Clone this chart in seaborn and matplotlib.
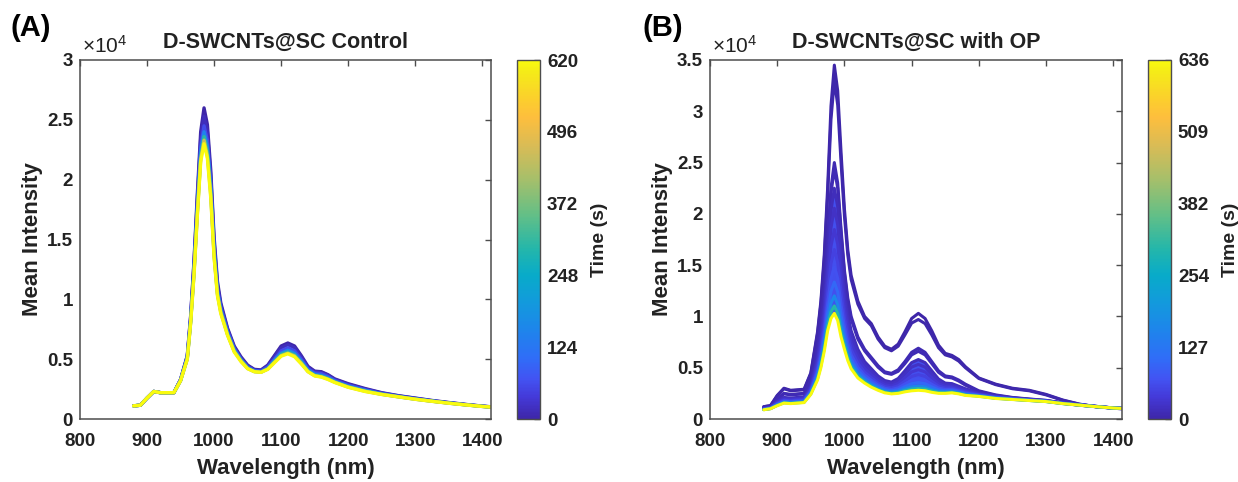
import numpy as np
import pandas as pd
import matplotlib
matplotlib.use("Agg")
import matplotlib.pyplot as plt
import seaborn as sns
from matplotlib.colors import LinearSegmentedColormap, Normalize
from matplotlib.cm import ScalarMappable
from matplotlib.ticker import FuncFormatter

# ---------------- data (intensities in units of 1e3 counts) ----------------
wavelength = [880, 890, 900, 910, 920, 940, 950, 960, 965, 970, 975, 980, 985, 990, 995,
              1000, 1005, 1010, 1020, 1030, 1040, 1050, 1060, 1070, 1080, 1090, 1100, 1110,
              1120, 1130, 1140, 1150, 1160, 1170, 1180, 1200, 1225, 1250, 1275, 1300, 1325,
              1350, 1375, 1400, 1413]

# Panel A: D-SWCNTs@SC Control
a_t000 = [1.1, 1.15, 1.75, 2.3, 2.2, 2.2, 3.3, 5.3, 8.6, 13.2, 18.8, 24.0, 26.0, 24.6, 20.8, 15.2, 11.5, 9.7, 7.6, 6.1,
          5.2, 4.5, 4.15, 4.1, 4.5, 5.3, 6.1, 6.35, 6.1, 5.3, 4.4, 4.0, 3.95, 3.7, 3.35, 2.95, 2.55, 2.2, 1.95, 1.75,
          1.55, 1.38, 1.22, 1.08, 1.02]
a_t015 = [1.1, 1.15, 1.75, 2.3, 2.2, 2.2, 3.3, 5.25, 8.5, 13.0, 18.4, 23.4, 25.3, 24.0, 20.3, 14.8, 11.2, 9.5, 7.5, 6.0,
          5.1, 4.45, 4.1, 4.05, 4.45, 5.2, 5.95, 6.2, 5.95, 5.2, 4.3, 3.95, 3.9, 3.65, 3.3, 2.9, 2.5, 2.17, 1.93, 1.73,
          1.53, 1.36, 1.21, 1.07, 1.01]
a_t060 = [1.1, 1.15, 1.75, 2.3, 2.2, 2.2, 3.25, 5.2, 8.3, 12.6, 17.9, 22.8, 24.5, 23.3, 19.7, 14.4, 10.9, 9.3, 7.35, 5.9,
          5.0, 4.35, 4.05, 4.0, 4.35, 5.0, 5.7, 5.95, 5.7, 5.0, 4.2, 3.85, 3.8, 3.55, 3.22, 2.82, 2.45, 2.13, 1.9, 1.7,
          1.51, 1.35, 1.2, 1.06, 1.01]
a_t150 = [1.1, 1.15, 1.75, 2.3, 2.2, 2.2, 3.25, 5.1, 8.2, 12.4, 17.6, 22.4, 24.0, 22.8, 19.3, 14.1, 10.7, 9.1, 7.2, 5.8,
          4.95, 4.3, 4.0, 3.95, 4.25, 4.9, 5.5, 5.75, 5.5, 4.85, 4.1, 3.75, 3.65, 3.45, 3.15, 2.75, 2.4, 2.1, 1.88, 1.68,
          1.5, 1.34, 1.19, 1.06, 1.0]
a_t300 = [1.1, 1.15, 1.75, 2.3, 2.2, 2.2, 3.2, 5.05, 8.1, 12.2, 17.3, 21.9, 23.6, 22.4, 19.0, 13.8, 10.5, 9.0, 7.1, 5.7,
          4.9, 4.25, 3.97, 3.92, 4.2, 4.8, 5.4, 5.6, 5.35, 4.75, 4.0, 3.65, 3.58, 3.38, 3.1, 2.7, 2.35, 2.07, 1.86, 1.66,
          1.49, 1.33, 1.18, 1.05, 1.0]
a_t450 = [1.1, 1.15, 1.75, 2.3, 2.2, 2.2, 3.2, 5.0, 8.05, 12.1, 17.1, 21.7, 23.3, 22.0, 18.7, 13.6, 10.4, 8.9, 7.05, 5.65,
          4.85, 4.22, 3.96, 3.91, 4.17, 4.75, 5.3, 5.5, 5.27, 4.67, 3.97, 3.62, 3.53, 3.33, 3.07, 2.67, 2.32, 2.06, 1.85, 1.65,
          1.48, 1.32, 1.18, 1.05, 1.0]
a_t620 = [1.1, 1.15, 1.75, 2.3, 2.2, 2.2, 3.2, 5.0, 8.0, 12.0, 17.0, 21.5, 23.0, 21.8, 18.5, 13.5, 10.3, 8.8, 7.0, 5.6,
          4.8, 4.2, 3.95, 3.9, 4.15, 4.7, 5.25, 5.45, 5.2, 4.6, 3.95, 3.6, 3.5, 3.3, 3.05, 2.65, 2.3, 2.05, 1.85, 1.65,
          1.48, 1.32, 1.18, 1.05, 1.0]
times_A = [0, 15, 60, 150, 300, 450, 620]
curves_A = [a_t000, a_t015, a_t060, a_t150, a_t300, a_t450, a_t620]

# Panel B: D-SWCNTs@SC with OP
b_t000 = [1.2, 1.3, 2.3, 3.0, 2.8, 2.9, 4.5, 8.5, 11.5, 16.0, 22.5, 30.5, 34.5, 32.0, 26.0, 20.5, 16.5, 14.0, 11.5, 10.0,
          9.3, 8.0, 7.1, 6.8, 7.3, 8.5, 9.8, 10.3, 9.8, 8.6, 7.2, 6.4, 6.2, 5.8, 5.1, 4.0, 3.4, 3.0, 2.8, 2.4,
          1.85, 1.45, 1.2, 1.05, 1.0]
b_t004 = [1.2, 1.3, 2.25, 2.95, 2.75, 2.85, 4.4, 8.3, 11.2, 15.5, 21.7, 29.2, 33.0, 30.6, 25.0, 19.8, 16.0, 13.6, 11.2, 9.8,
          9.1, 7.8, 6.95, 6.65, 7.1, 8.2, 9.35, 9.7, 9.3, 8.2, 6.95, 6.25, 6.05, 5.65, 5.0, 3.95, 3.35, 2.95, 2.75, 2.35,
          1.82, 1.43, 1.19, 1.05, 1.0]
b_t008 = [1.1, 1.2, 1.95, 2.5, 2.4, 2.5, 3.8, 7.0, 9.5, 13.0, 17.5, 22.5, 25.0, 23.0, 18.5, 14.5, 11.8, 10.0, 8.0, 6.8,
          6.0, 5.2, 4.6, 4.45, 4.8, 5.6, 6.5, 6.9, 6.5, 5.6, 4.7, 4.2, 4.1, 3.8, 3.4, 2.75, 2.35, 2.1, 1.95, 1.82,
          1.55, 1.35, 1.2, 1.07, 1.03]
b_t012 = [1.1, 1.2, 1.9, 2.45, 2.35, 2.45, 3.7, 6.85, 9.3, 12.7, 17.1, 22.0, 24.4, 22.5, 18.1, 14.2, 11.5, 9.75, 7.8, 6.65,
          5.85, 5.05, 4.5, 4.35, 4.65, 5.4, 6.25, 6.6, 6.25, 5.4, 4.55, 4.1, 4.0, 3.7, 3.3, 2.68, 2.3, 2.07, 1.93, 1.8,
          1.53, 1.34, 1.19, 1.07, 1.03]
b_t016 = [1.05, 1.15, 1.75, 2.1, 2.05, 2.15, 3.3, 6.2, 8.4, 11.5, 15.8, 20.3, 22.5, 20.7, 16.5, 12.8, 10.3, 8.6, 6.8, 5.6,
          4.9, 4.2, 3.75, 3.6, 3.95, 4.7, 5.5, 5.8, 5.5, 4.7, 3.9, 3.5, 3.45, 3.2, 2.95, 2.55, 2.25, 2.05, 1.9, 1.78,
          1.58, 1.4, 1.23, 1.08, 1.03]
b_t024 = [1.03, 1.13, 1.68, 2.01, 1.96, 2.06, 3.16, 5.82, 7.86, 10.72, 14.65, 18.62, 20.55, 18.92, 15.14, 11.84, 9.56, 8.01,
          6.35, 5.26, 4.61, 3.98, 3.56, 3.42, 3.72, 4.37, 5.06, 5.32, 5.06, 4.36, 3.68, 3.34, 3.31, 3.08, 2.85, 2.49, 2.21,
          2.03, 1.88, 1.77, 1.57, 1.39, 1.23, 1.08, 1.03]
b_t034 = [1.0, 1.1, 1.6, 1.92, 1.87, 1.97, 3.0, 5.41, 7.28, 9.88, 13.42, 16.84, 18.47, 17.04, 13.7, 10.82, 8.78, 7.38,
          5.88, 4.91, 4.31, 3.74, 3.35, 3.22, 3.47, 4.02, 4.59, 4.81, 4.59, 4.01, 3.44, 3.17, 3.15, 2.95, 2.74, 2.43, 2.17,
          2.0, 1.87, 1.75, 1.55, 1.38, 1.22, 1.08, 1.03]
b_t048 = [0.98, 1.08, 1.53, 1.83, 1.78, 1.88, 2.86, 5.02, 6.73, 9.1, 12.27, 15.16, 16.52, 15.26, 12.34, 9.86, 8.05, 6.79,
          5.43, 4.57, 4.02, 3.51, 3.16, 3.04, 3.24, 3.7, 4.15, 4.33, 4.15, 3.67, 3.21, 3.01, 3.01, 2.83, 2.63, 2.38, 2.13,
          1.98, 1.85, 1.74, 1.54, 1.38, 1.22, 1.07, 1.03]
b_t068 = [0.96, 1.06, 1.47, 1.75, 1.7, 1.8, 2.73, 4.69, 6.26, 8.41, 11.26, 13.69, 14.81, 13.71, 11.15, 9.02, 7.4, 6.27,
          5.04, 4.28, 3.77, 3.32, 2.99, 2.88, 3.04, 3.41, 3.77, 3.91, 3.77, 3.38, 3.02, 2.87, 2.88, 2.73, 2.54, 2.33, 2.09,
          1.96, 1.84, 1.73, 1.53, 1.37, 1.21, 1.07, 1.03]
b_t100 = [0.94, 1.04, 1.41, 1.69, 1.64, 1.74, 2.63, 4.4, 5.85, 7.83, 10.4, 12.43, 13.35, 12.38, 10.13, 8.3, 6.85, 5.83,
          4.7, 4.03, 3.55, 3.15, 2.85, 2.74, 2.86, 3.16, 3.44, 3.55, 3.44, 3.13, 2.85, 2.75, 2.78, 2.64, 2.46, 2.29, 2.06,
          1.94, 1.83, 1.72, 1.52, 1.36, 1.21, 1.07, 1.03]
b_t160 = [0.92, 1.02, 1.36, 1.63, 1.58, 1.68, 2.53, 4.14, 5.48, 7.29, 9.61, 11.27, 12.01, 11.15, 9.19, 7.64, 6.34, 5.42,
          4.39, 3.79, 3.35, 3.0, 2.72, 2.61, 2.7, 2.94, 3.14, 3.22, 3.14, 2.89, 2.7, 2.64, 2.68, 2.56, 2.39, 2.25, 2.04,
          1.92, 1.81, 1.71, 1.51, 1.36, 1.2, 1.07, 1.03]
b_t300 = [0.91, 1.01, 1.33, 1.58, 1.53, 1.63, 2.45, 3.94, 5.2, 6.89, 9.03, 10.43, 11.03, 10.27, 8.51, 7.16, 5.98, 5.12,
          4.17, 3.63, 3.21, 2.88, 2.62, 2.52, 2.59, 2.77, 2.92, 2.98, 2.92, 2.73, 2.58, 2.56, 2.6, 2.5, 2.34, 2.22, 2.02,
          1.91, 1.81, 1.7, 1.5, 1.35, 1.2, 1.07, 1.03]
b_t636 = [0.9, 1.0, 1.3, 1.55, 1.5, 1.6, 2.4, 3.8, 5.0, 6.6, 8.6, 9.8, 10.3, 9.6, 8.0, 6.8, 5.7, 4.9, 4.0, 3.5,
          3.1, 2.8, 2.55, 2.45, 2.5, 2.65, 2.75, 2.8, 2.75, 2.6, 2.5, 2.5, 2.55, 2.45, 2.3, 2.2, 2.0, 1.9, 1.8, 1.7,
          1.5, 1.35, 1.2, 1.07, 1.03]
times_B = [0, 4, 8, 12, 16, 24, 34, 48, 68, 100, 160, 300, 636]
curves_B = [b_t000, b_t004, b_t008, b_t012, b_t016, b_t024, b_t034, b_t048, b_t068, b_t100,
            b_t160, b_t300, b_t636]
# the densely packed spectra of panel B lie between these two curves
band_top_B = b_t016
band_bottom_B = b_t636
band_time_B = 65

x_ticks = [800, 900, 1000, 1100, 1200, 1300, 1400]
y_ticks_A = [0, 5000, 10000, 15000, 20000, 25000, 30000]
y_ticks_B = [0, 5000, 10000, 15000, 20000, 25000, 30000, 35000]
cbar_ticks_A = [0, 124, 248, 372, 496, 620]
cbar_ticks_B = [0, 127, 254, 382, 509, 636]
titles = ["D-SWCNTs@SC Control", "D-SWCNTs@SC with OP"]
panel_tags = ["(A)", "(B)"]

# ---------------- parula-like colormap ----------------
parula_nodes = [
    (0.000, (0.2422, 0.1504, 0.6603)), (0.060, (0.2680, 0.2250, 0.8500)),
    (0.110, (0.2600, 0.3250, 0.9500)), (0.170, (0.1850, 0.4300, 0.9700)),
    (0.250, (0.1150, 0.5250, 0.9200)), (0.330, (0.0700, 0.6100, 0.8600)),
    (0.400, (0.0300, 0.6700, 0.7900)), (0.476, (0.1453, 0.7150, 0.6646)),
    (0.571, (0.3953, 0.7500, 0.5244)), (0.667, (0.6473, 0.7500, 0.4188)),
    (0.762, (0.8507, 0.7350, 0.3360)), (0.841, (0.9938, 0.7455, 0.2403)),
    (0.889, (0.9880, 0.8066, 0.1794)), (0.968, (0.9598, 0.9218, 0.0948)),
    (1.000, (0.9763, 0.9831, 0.0538))]
parula = LinearSegmentedColormap.from_list("parula", parula_nodes)

# ---------------- style ----------------
sns.set_theme(style="white")
plt.rcParams['font.family'] = ['Liberation Sans', 'DejaVu Sans']
plt.rcParams['mathtext.fontset'] = 'custom'
plt.rcParams['mathtext.rm'] = 'Liberation Sans'
plt.rcParams['mathtext.it'] = 'Liberation Sans:italic'
plt.rcParams['mathtext.bf'] = 'Liberation Sans:bold'

TXT = '#222222'
EDGE = '0.3'
W, H = 1238, 482

fig = plt.figure(figsize=(W / 100, H / 100), dpi=100)
fig.patch.set_facecolor('white')


def px_axes(x0, x1, y0, y1):
    return [x0 / W, 1 - y1 / H, (x1 - x0) / W, (y1 - y0) / H]


panels = [
    dict(times=times_A, curves=curves_A, yticks=y_ticks_A, ymax=30000, cticks=cbar_ticks_A,
         ax=px_axes(80, 491, 60, 419), cax=px_axes(517, 540, 60, 419), tagx=10, lw=2.4,
         band=None),
    dict(times=times_B, curves=curves_B, yticks=y_ticks_B, ymax=35000, cticks=cbar_ticks_B,
         ax=px_axes(710, 1122, 60, 419), cax=px_axes(1148, 1171, 60, 419), tagx=643, lw=2.2,
         band=(band_bottom_B, band_top_B, band_time_B)),
]

for i, p in enumerate(panels):
    rows = []
    for t, c in zip(p['times'], p['curves']):
        for wl, v in zip(wavelength, c):
            rows.append((wl, v * 1000.0, t))
    df = pd.DataFrame(rows, columns=['Wavelength', 'Intensity', 'Time'])
    norm = Normalize(vmin=0, vmax=p['times'][-1])

    ax = fig.add_axes(p['ax'])
    if p['band'] is not None:
        lo, hi, tb = p['band']
        ax.fill_between(wavelength, np.array(lo) * 1000.0, np.array(hi) * 1000.0,
                        color=parula(norm(tb)), lw=0, zorder=1)
    sns.lineplot(data=df, x='Wavelength', y='Intensity', hue='Time', units='Time',
                 estimator=None, sort=False, palette=parula, hue_norm=norm,
                 linewidth=p['lw'], legend=False, ax=ax, zorder=2)

    ax.set_xlim(800, 1413)
    ax.set_ylim(0, p['ymax'])
    ax.set_xticks(x_ticks)
    ax.set_yticks(p['yticks'])
    ax.yaxis.set_major_formatter(FuncFormatter(lambda v, pos: f"{v / 1e4:g}"))
    ax.tick_params(axis='both', direction='in', top=True, right=True, length=4, width=1,
                   color=EDGE, labelsize=13.5, labelcolor=TXT)
    ax.tick_params(axis='x', pad=10)
    ax.tick_params(axis='y', pad=5)
    for lab in ax.get_xticklabels() + ax.get_yticklabels():
        lab.set_fontweight('bold')
    for s in ax.spines.values():
        s.set_visible(True)
        s.set_color(EDGE)
        s.set_linewidth(1.1)
    ax.set_xlabel('Wavelength (nm)', fontsize=16, fontweight='bold', color=TXT, labelpad=6)
    ax.set_ylabel('Mean Intensity', fontsize=16, fontweight='bold', color=TXT, labelpad=3)
    ax.set_title(titles[i], fontsize=15.5, fontweight='bold', color=TXT, pad=9)
    ax.text(0.005, 1.01, r'$\times\mathregular{10^{4}}$', transform=ax.transAxes,
            fontsize=15, color=TXT, ha='left', va='bottom')
    fig.text(p['tagx'] / W, 1 - 28 / H, panel_tags[i], fontsize=21, fontweight='bold',
             color='black', ha='left', va='center')

    cax = fig.add_axes(p['cax'])
    cb = fig.colorbar(ScalarMappable(norm=norm, cmap=parula), cax=cax, ticks=p['cticks'])
    cb.ax.tick_params(direction='in', length=4, width=1, color=EDGE, labelsize=13.5,
                      labelcolor=TXT, pad=5)
    for lab in cb.ax.get_yticklabels():
        lab.set_fontweight('bold')
    cb.outline.set_edgecolor(EDGE)
    cb.outline.set_linewidth(1.0)
    cb.set_label('Time (s)', fontsize=14, fontweight='bold', color=TXT, labelpad=9)

fig.savefig('out.png', dpi=100, facecolor='white')
